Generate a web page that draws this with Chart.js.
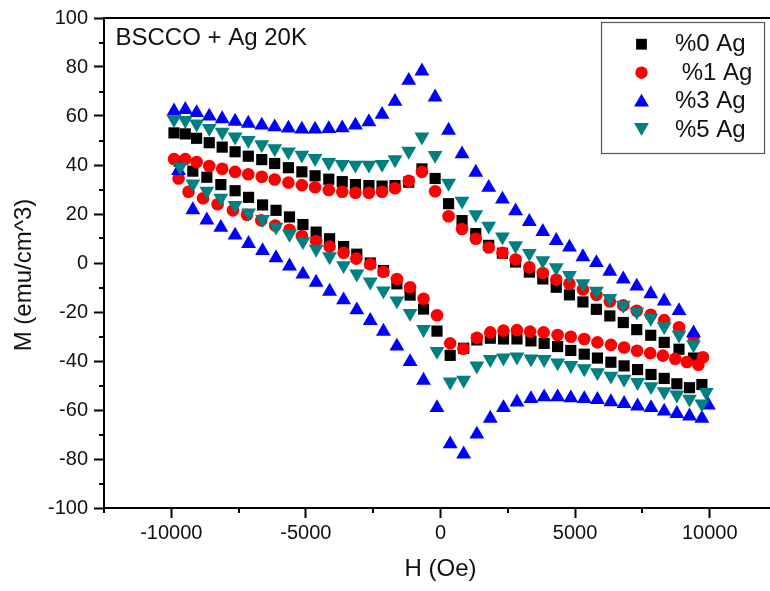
<!DOCTYPE html>
<html>
<head>
<meta charset="utf-8">
<title>BSCCO + Ag 20K</title>
<script src="https://cdn.jsdelivr.net/npm/chart.js@4/dist/chart.umd.min.js"></script>
<style>
  html, body { margin: 0; padding: 0; background: #ffffff; overflow: hidden; }
  #wrap { width: 800px; height: 591px; }
</style>
</head>
<body>
<div id="wrap"><canvas id="loop" width="800" height="591"></canvas></div>
<script>
// ---- series description ----
const seriesLabels = ['%0 Ag', ' %1 Ag', '%3 Ag', '%5 Ag'];
const seriesColors = ['#000000', '#ff0000', '#0000ff', '#008080'];

// ---- axis ticks ----
const xTickValues = [-10000, -5000, 0, 5000, 10000];
const xMinorValues = [-12500, -7500, -2500, 2500, 7500, 12500];
const yTickValues = [-100, -80, -60, -40, -20, 0, 20, 40, 60, 80, 100];
const yMinorValues = [-90, -70, -50, -30, -10, 10, 30, 50, 70, 90];

// ---- field values (Oe) ----
// branch measured while the field is swept down from +10 kOe (listed left to right)
const fieldUpper = [-9900, -9480, -9060, -8590, -8110, -7630, -7140, -6640, -6160, -5650,
  -5150, -4660, -4150, -3650, -3160, -2660, -2170, -1690, -1180, -690,
  -200, 300, 800, 1310, 1790, 2300, 2790, 3300, 3800, 4300,
  4790, 5290, 5790, 6290, 6790, 7290, 7810, 8310, 8860, 9400];
// branch measured while the field is swept up from -10 kOe
const fieldLower = [-9200, -8680, -8160, -7630, -7130, -6610, -6110, -5610, -5110, -4620,
  -4120, -3600, -3110, -2610, -2120, -1620, -1130, -630, -130, 360,
  860, 1350, 1850, 2340, 2840, 3360, 3850, 4350, 4840, 5340,
  5830, 6330, 6820, 7320, 7820, 8310, 8780, 9250, 9710];
const fieldLowerAg1 = [-9360, -8820, -8280, -7710, -7190, -6660, -6140, -5610, -5150, -4620,
  -4120, -3600, -3130, -2610, -2120, -1620, -1130, -630, -130, 360,
  850, 1350, 1850, 2340, 2840, 3330, 3830, 4350, 4840, 5340,
  5830, 6330, 6820, 7300, 7790, 8260, 8720, 9150, 9580];

// ---- magnetisation (emu/cm^3) ----
const ag0Upper = [53.1, 52.7, 50.9, 49.1, 47.3, 45.4, 43.6, 42.2, 40.6, 38.9,
  37.2, 35.6, 34.2, 33.2, 32.0, 31.6, 31.4, 31.6, 33.0, 38.4,
  34.5, 24.2, 17.3, 12.0, 7.2, 4.0, 0.4, -3.7, -6.5, -9.9,
  -13.0, -15.9, -18.9, -21.6, -24.3, -27.2, -29.5, -32.4, -35.2, -38.8];
const ag0Lower = [37.5, 35.0, 32.0, 29.5, 26.8, 23.7, 21.5, 18.8, 15.7, 12.6,
  9.9, 6.7, 3.6, 0.0, -3.1, -8.5, -13.1, -18.8, -27.8, -37.7,
  -34.8, -31.4, -30.7, -31.0, -31.0, -31.8, -32.8, -34.1, -35.7, -37.2,
  -38.8, -40.5, -42.0, -43.5, -45.5, -47.1, -49.3, -50.9, -49.6];
const ag0TurnField = [-9700];
const ag0TurnM = [41.5];

const ag1Upper = [42.4, 42.4, 41.2, 39.6, 38.5, 37.2, 36.2, 35.2, 34.1, 32.8,
  31.8, 30.9, 29.8, 29.1, 28.7, 28.7, 29.1, 30.5, 33.6, 37.2,
  29.3, 19.1, 13.9, 9.9, 6.3, 4.2, 1.4, -1.8, -4.1, -6.8,
  -8.5, -10.8, -13.0, -15.7, -17.3, -19.5, -21.1, -23.3, -26.2, -30.1];
const ag1Lower = [29.1, 26.4, 24.0, 21.5, 19.7, 17.4, 15.3, 13.6, 11.0, 9.0,
  6.7, 4.2, 1.8, -0.5, -3.6, -6.5, -9.9, -14.6, -21.3, -32.8,
  -35.0, -30.5, -28.3, -27.6, -27.4, -28.0, -28.3, -29.4, -30.1, -31.0,
  -32.4, -33.4, -34.5, -35.8, -36.8, -37.8, -39.1, -40.4, -41.5];
const ag1TurnField = [-9730, 9750];
const ag1TurnM = [34.5, -38.5];

const ag3Upper = [62.0, 62.6, 61.3, 59.9, 58.8, 57.8, 57.0, 56.2, 55.5, 55.0,
  54.6, 54.6, 54.8, 55.1, 56.2, 57.6, 60.6, 65.9, 74.5, 78.3,
  67.7, 54.1, 44.5, 37.0, 30.8, 26.0, 21.2, 16.9, 12.8, 9.1,
  6.4, 2.5, 0.1, -3.4, -6.6, -9.5, -12.6, -15.6, -19.5, -28.6];
const ag3Lower = [21.7, 17.5, 14.5, 11.3, 7.9, 5.0, 2.1, -1.3, -4.6, -7.9,
  -11.6, -15.1, -19.2, -23.5, -27.9, -34.0, -40.3, -47.9, -59.1, -73.9,
  -78.0, -69.9, -63.4, -59.1, -56.8, -55.4, -54.7, -54.7, -55.1, -55.4,
  -55.8, -56.7, -57.4, -58.4, -59.1, -60.5, -61.5, -62.5, -63.4];
const ag3TurnField = [-9730, 9950];
const ag3TurnM = [37.7, -58.0];

const ag5Upper = [58.6, 58.2, 56.8, 55.0, 53.4, 51.5, 50.1, 48.3, 46.7, 45.4,
  44.1, 42.7, 41.1, 40.3, 40.0, 40.0, 40.3, 42.2, 45.7, 51.5,
  44.0, 32.6, 25.3, 19.8, 15.1, 10.7, 7.1, 4.0, 1.0, -1.9,
  -5.0, -8.4, -11.4, -14.4, -17.2, -19.9, -22.5, -25.9, -29.3, -33.3];
const ag5Lower = [32.3, 29.4, 26.5, 23.6, 20.5, 17.8, 14.7, 11.8, 8.8, 5.7,
  2.6, -1.0, -4.4, -7.7, -11.3, -15.4, -20.5, -27.1, -36.0, -48.5,
  -47.8, -42.0, -39.3, -38.7, -38.3, -39.1, -39.3, -40.7, -41.8, -43.1,
  -44.7, -46.1, -47.4, -48.7, -50.4, -52.5, -53.8, -55.5, -57.5];
const ag5TurnField = [-9670, 9870];
const ag5TurnM = [39.3, -52.8];

// ---- helpers ----
const FONT = "'Liberation Sans', Arial, Helvetica, sans-serif";
function pairs(hs, ms) { return hs.map((h, i) => ({ x: h, y: ms[i] })); }
function loop(hUp, mUp, hLo, mLo, hT, mT) {
  return pairs(hUp, mUp).concat(pairs(hLo, mLo), pairs(hT, mT));
}

const loops = [
  loop(fieldUpper, ag0Upper, fieldLower, ag0Lower, ag0TurnField, ag0TurnM),
  loop(fieldUpper, ag1Upper, fieldLowerAg1, ag1Lower, ag1TurnField, ag1TurnM),
  loop(fieldUpper, ag3Upper, fieldLower, ag3Lower, ag3TurnField, ag3TurnM),
  loop(fieldUpper, ag5Upper, fieldLower, ag5Lower, ag5TurnField, ag5TurnM)
];
const markerStyle = [
  { pointStyle: 'rect', radius: 7.9, rotation: 0 },
  { pointStyle: 'circle', radius: 6.3, rotation: 0 },
  { pointStyle: 'triangle', radius: 8.6, rotation: 0 },
  { pointStyle: 'triangle', radius: 8.6, rotation: 180 }
];

const datasets = loops.map((pts, i) => ({
  label: seriesLabels[i],
  data: pts,
  showLine: false,
  pointStyle: markerStyle[i].pointStyle,
  pointRadius: markerStyle[i].radius,
  pointHoverRadius: markerStyle[i].radius,
  pointRotation: markerStyle[i].rotation,
  pointBorderWidth: 0,
  backgroundColor: seriesColors[i],
  borderColor: seriesColors[i],
  order: 4 - i
}));

// minor ticks, frame top line, y title, inner caption and the legend box
const decorations = {
  id: 'decorations',
  afterDraw(chart) {
    const ctx = chart.ctx;
    const area = chart.chartArea;
    const xs = chart.scales.x, ys = chart.scales.y;
    ctx.save();
    ctx.strokeStyle = '#000';
    ctx.lineWidth = 2;
    ctx.beginPath();
    xMinorValues.forEach(v => {
      const px = Math.round(xs.getPixelForValue(v));
      ctx.moveTo(px, area.bottom); ctx.lineTo(px, area.bottom + 5);
    });
    yMinorValues.forEach(v => {
      const py = Math.round(ys.getPixelForValue(v));
      ctx.moveTo(area.left, py); ctx.lineTo(area.left - 5, py);
    });
    ctx.moveTo(area.left - 1, area.top); ctx.lineTo(area.right, area.top);
    ctx.stroke();

    // y axis title
    ctx.save();
    ctx.translate(30.5, 275);
    ctx.rotate(-Math.PI / 2);
    ctx.fillStyle = '#111';
    ctx.font = '24px ' + FONT;
    ctx.textAlign = 'center';
    ctx.textBaseline = 'alphabetic';
    ctx.fillText('M (emu/cm^3)', 0, 0);
    ctx.restore();

    // caption
    ctx.fillStyle = '#111';
    ctx.font = '24px ' + FONT;
    ctx.textAlign = 'left';
    ctx.textBaseline = 'alphabetic';
    ctx.fillText('BSCCO + Ag 20K', 115.5, 45);

    // legend
    ctx.fillStyle = '#ffffff';
    ctx.fillRect(601, 22, 163, 131);
    ctx.strokeStyle = '#555';
    ctx.lineWidth = 1.2;
    ctx.strokeRect(601.5, 22.5, 163, 131);
    const mx = 641.5;
    const rowY = [44.2, 72.7, 102.3, 127.4];
    const baseY = [51, 79.5, 108, 136.5];
    seriesLabels.forEach((lab, i) => {
      const y = rowY[i];
      ctx.fillStyle = seriesColors[i];
      ctx.beginPath();
      if (i === 0) {
        ctx.rect(mx - 5.4, y - 5.4, 10.8, 10.8);
      } else if (i === 1) {
        ctx.arc(mx, y, 6.2, 0, Math.PI * 2);
      } else {
        const r = 8.6, s = (i === 2) ? 1 : -1;
        ctx.moveTo(mx, y - s * r);
        ctx.lineTo(mx + r * 0.866, y + s * r * 0.5);
        ctx.lineTo(mx - r * 0.866, y + s * r * 0.5);
        ctx.closePath();
      }
      ctx.fill();
      ctx.fillStyle = '#111';
      ctx.font = '24px ' + FONT;
      ctx.fillText(lab, 675, baseY[i]);
    });
    ctx.restore();
  }
};

const plainNumber = v => String(v);

new Chart(document.getElementById('loop'), {
  type: 'scatter',
  data: { datasets: datasets },
  options: {
    responsive: false,
    animation: false,
    events: [],
    layout: { padding: { top: 13, right: 23, bottom: 0, left: 0 } },
    plugins: { legend: { display: false }, tooltip: { enabled: false } },
    scales: {
      x: {
        type: 'linear',
        min: -12500,
        max: 12500,
        afterBuildTicks: s => { s.ticks = xTickValues.map(v => ({ value: v })); },
        afterFit: s => { s.height = 83; },
        grid: { drawOnChartArea: false, drawTicks: true, tickLength: 10, tickWidth: 2, tickColor: '#000' },
        border: { display: true, color: '#000', width: 2 },
        ticks: { callback: plainNumber, autoSkip: false, maxRotation: 0, padding: 3,
                 color: '#111', font: { family: FONT, size: 20 } },
        title: { display: true, text: 'H (Oe)', color: '#111',
                 font: { family: FONT, size: 24 }, padding: { top: 0, bottom: 7 } }
      },
      y: {
        type: 'linear',
        min: -100,
        max: 100,
        afterBuildTicks: s => { s.ticks = yTickValues.map(v => ({ value: v })); },
        afterFit: s => { s.width = 104; },
        grid: { drawOnChartArea: false, drawTicks: true, tickLength: 10, tickWidth: 2, tickColor: '#000' },
        border: { display: true, color: '#000', width: 2 },
        ticks: { callback: plainNumber, autoSkip: false, padding: 6,
                 color: '#111', font: { family: FONT, size: 20 } },
        title: { display: false }
      }
    }
  },
  plugins: [decorations]
});
</script>
</body>
</html>
